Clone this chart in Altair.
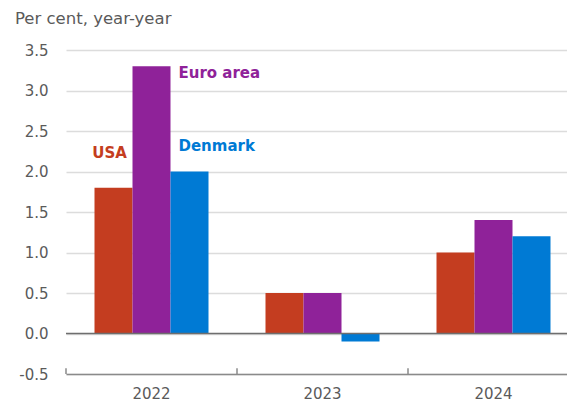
import altair as alt
import pandas as pd

years = ["2022", "2023", "2024"]
series = ["USA", "Euro area", "Denmark"]
usa = [1.8, 0.5, 1.0]
euro_area = [3.3, 0.5, 1.4]
denmark = [2.0, -0.1, 1.2]
colors = ["#C43D20", "#8F2299", "#007AD4"]
y_ticks = [-0.5, 0.0, 0.5, 1.0, 1.5, 2.0, 2.5, 3.0, 3.5]
y_title = "Per cent, year-year"

rows = []
for s, vals in zip(series, [usa, euro_area, denmark]):
    for yr, v in zip(years, vals):
        rows.append({"year": yr, "series": s, "value": v})
df = pd.DataFrame(rows)

FONT = "DejaVu Sans"

x_scale = alt.Scale(domain=years, paddingInner=0, paddingOuter=0, range=[0, 513])
y_scale = alt.Scale(domain=[-0.5, 3.5], nice=False, zero=False)
off_scale = alt.Scale(domain=series, paddingInner=0, paddingOuter=0.75)
color_scale = alt.Scale(domain=series, range=colors)

bars = alt.Chart(df).mark_bar().encode(
    x=alt.X("year:N", scale=x_scale, title=None,
            axis=alt.Axis(labelAngle=0, ticks=False, domain=True, domainColor="#8a8a8a",
                          domainWidth=1.5, grid=False, labelFontSize=15, labelColor="#5a5a5a",
                          labelPadding=12, labelFont=FONT)),
    xOffset=alt.XOffset("series:N", scale=off_scale, sort=series),
    y=alt.Y("value:Q", scale=y_scale, title=None,
            axis=alt.Axis(values=y_ticks, domain=False, ticks=False,
                          labelExpr="replace(format(datum.value, '.1f'), '\u2212', '-')",
                          gridColor="#dcdcdc", gridWidth=1.5, labelFontSize=15,
                          labelColor="#5a5a5a", labelPadding=18, labelFont=FONT)),
    color=alt.Color("series:N", scale=color_scale, legend=None),
)

zero_df = pd.DataFrame({"v": [0.0]})
zero_line = alt.Chart(zero_df).mark_rule(color="#6e6e6e", strokeWidth=1.5).encode(
    y=alt.Y("v:Q", scale=y_scale, title=None)
)

tick_df = pd.DataFrame({"year": years, "lo": [-0.5] * 3, "hi": [-0.43] * 3})
ticks = alt.Chart(tick_df).mark_rule(color="#8a8a8a", strokeWidth=1.5).encode(
    x=alt.X("year:N", scale=x_scale, bandPosition=0, title=None),
    y=alt.Y("lo:Q", scale=y_scale, title=None),
    y2="hi:Q",
)

def label(name, yv, dx, align, color):
    d = pd.DataFrame({"year": ["2022"], "series": [name], "ly": [yv], "t": [name]})
    return alt.Chart(d).mark_text(
        font=FONT, fontSize=15, fontWeight="bold", color=color, align=align,
        baseline="middle", dx=dx
    ).encode(
        x=alt.X("year:N", scale=x_scale, title=None),
        xOffset=alt.XOffset("series:N", scale=off_scale, sort=series),
        y=alt.Y("ly:Q", scale=y_scale, title=None),
        text="t:N",
    )

lab_usa = label("USA", 2.23, -4, "center", colors[0])
lab_ea = label("Euro area", 3.21, 27, "left", colors[1])
lab_dk = label("Denmark", 2.31, -11, "left", colors[2])

title_df = pd.DataFrame({"t": [y_title]})
title = alt.Chart(title_df).mark_text(
    font=FONT, fontSize=16.5, color="#5a5a5a", align="left", baseline="alphabetic"
).encode(x=alt.value(-51), y=alt.value(-26), text="t:N")

chart = alt.layer(bars, zero_line, ticks, lab_usa, lab_ea, lab_dk, title).properties(
    width=501, height=324,
    autosize=alt.AutoSizeParams(type="none"),
    padding={"left": 58, "top": 42, "right": 0, "bottom": 30},
).configure_view(stroke=None)

chart.save("out.html", embed_options={"renderer": "svg", "actions": False})
